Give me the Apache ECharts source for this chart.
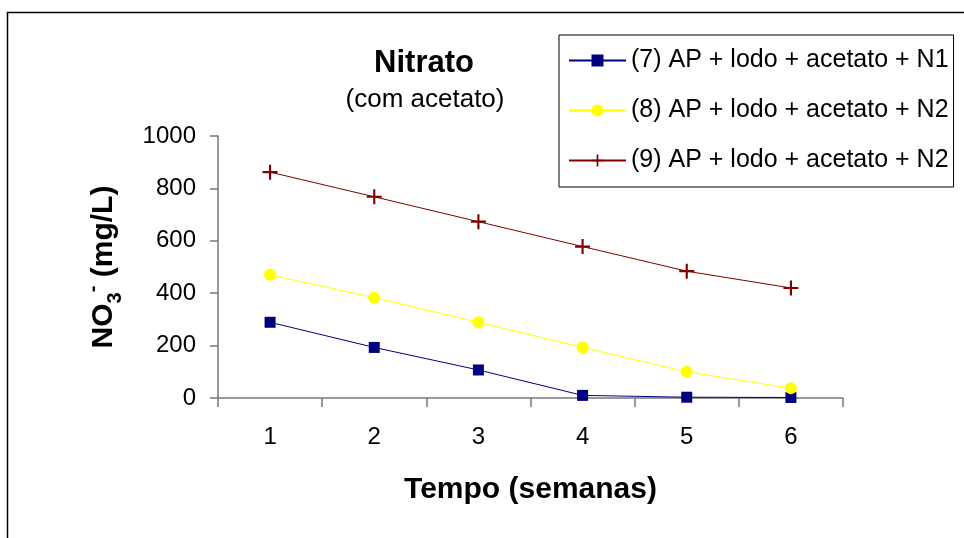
<!DOCTYPE html>
<html>
<head>
<meta charset="utf-8">
<script src="https://cdn.jsdelivr.net/npm/echarts@6/dist/echarts.min.js"></script>
<style>
  html, body { margin: 0; padding: 0; background: #fff; }
  #chart { width: 964px; height: 538px; }
</style>
</head>
<body>
<div id="chart"></div>
<script>
const categories = ['1', '2', '3', '4', '5', '6'];
const seriesNames = [
  '(7) AP + lodo + acetato + N1',
  '(8) AP + lodo + acetato + N2',
  '(9) AP + lodo + acetato + N2'
];
const values7 = [289, 193, 107, 10, 3, 2];
const values8 = [470, 383, 289, 193, 100, 37];
const values9 = [862, 768, 673, 578, 484, 420];
const yTicks = [0, 200, 400, 600, 800, 1000];

const FONT = 'Arial, "Liberation Sans", sans-serif';
const plusPath = 'path://M6,0 H8 V6 H14 V8 H8 V14 H6 V8 H0 V6 H6 Z';

const chart = echarts.init(document.getElementById('chart'), null, { renderer: 'canvas' });

const option = {
  backgroundColor: '#ffffff',
  animation: false,
  textStyle: { fontFamily: FONT, color: '#000' },
  graphic: [
    {
      type: 'rect', silent: true, z: -1,
      shape: { x: 7.5, y: 12.5, width: 1100, height: 700 },
      style: { fill: 'none', stroke: '#000', lineWidth: 1.5 }
    },
    {
      type: 'text',
      x: 424, y: 63,
      style: { text: 'Nitrato', fontFamily: FONT, fontSize: 31, fontWeight: 'bold', fill: '#000', align: 'center', verticalAlign: 'middle' }
    },
    {
      type: 'text',
      x: 425, y: 100,
      style: { text: '(com acetato)', fontFamily: FONT, fontSize: 26, fill: '#000', align: 'center', verticalAlign: 'middle' }
    }
  ],
  legend: {
    orient: 'vertical',
    left: 559,
    top: 35,
    padding: [13, 5, 14, 9],
    itemGap: 25,
    itemWidth: 57,
    itemHeight: 15,
    borderColor: '#000',
    borderWidth: 1,
    textStyle: { fontFamily: FONT, fontSize: 25, color: '#000' },
    data: seriesNames
  },
  grid: { left: 218, right: 121, top: 136, bottom: 140, containLabel: false },
  xAxis: {
    type: 'category',
    data: categories,
    boundaryGap: true,
    name: 'Tempo (semanas)',
    nameLocation: 'middle',
    nameGap: 77,
    nameTextStyle: { fontFamily: FONT, fontSize: 30, fontWeight: 'bold', color: '#000' },
    axisLine: { show: true, lineStyle: { color: '#777', width: 1.5 } },
    axisTick: { show: true, length: 9, alignWithLabel: false, lineStyle: { color: '#777', width: 1.5 } },
    axisLabel: { fontFamily: FONT, fontSize: 24, color: '#000', margin: 27 },
    splitLine: { show: false }
  },
  yAxis: {
    type: 'value',
    min: yTicks[0],
    max: yTicks[yTicks.length - 1],
    interval: 200,
    name: 'NO{sub|3}{sup|-} (mg/L)',
    nameLocation: 'middle',
    nameGap: 93,
    nameRotate: 90,
    nameTextStyle: {
      fontFamily: FONT, fontSize: 30, fontWeight: 'bold', color: '#000',
      lineHeight: 42,
      rich: {
        sub: { fontFamily: FONT, fontSize: 20, fontWeight: 'bold', color: '#000', verticalAlign: 'bottom', lineHeight: 20 },
        sup: { fontFamily: FONT, fontSize: 20, fontWeight: 'bold', color: '#000', verticalAlign: 'top', lineHeight: 20 }
      }
    },
    axisLine: { show: true, lineStyle: { color: '#777', width: 1.5 } },
    axisTick: { show: true, length: 8, lineStyle: { color: '#777', width: 1.5 } },
    axisLabel: { fontFamily: FONT, fontSize: 24, color: '#000', margin: 22, formatter: (v) => String(v) },
    splitLine: { show: false }
  },
  series: [
    {
      name: seriesNames[0],
      type: 'line',
      data: values7,
      symbol: 'rect',
      symbolSize: 11,
      color: '#000080',
      lineStyle: { color: '#000080', width: 1 },
      itemStyle: { color: '#000080' },
      z: 3
    },
    {
      name: seriesNames[1],
      type: 'line',
      data: values8,
      symbol: 'circle',
      symbolSize: 12,
      color: '#ffff00',
      lineStyle: { color: '#ffff00', width: 1 },
      itemStyle: { color: '#ffff00' },
      z: 4
    },
    {
      name: seriesNames[2],
      type: 'line',
      data: values9,
      symbol: plusPath,
      symbolSize: 15,
      symbolKeepAspect: true,
      color: '#800000',
      lineStyle: { color: '#800000', width: 1 },
      itemStyle: { color: '#800000' },
      z: 5
    }
  ]
};

chart.setOption(option);
</script>
</body>
</html>
